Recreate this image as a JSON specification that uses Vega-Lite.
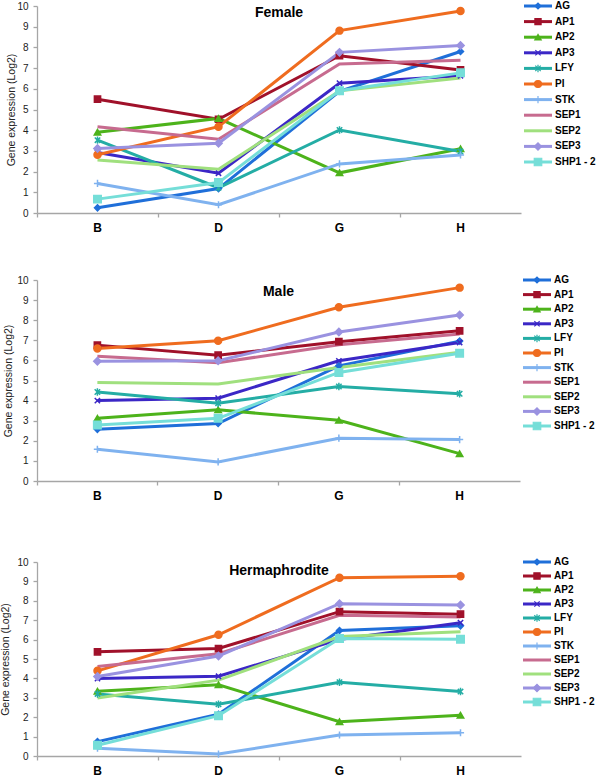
{
  "$schema": "https://vega.github.io/schema/vega-lite/v6.json",
  "padding": {"left": 0, "top": 0, "right": 0, "bottom": 0},
  "config": {
    "view": {"stroke": null},
    "font": "Liberation Sans",
    "axis": {"domainColor": "#a6a6a6", "tickColor": "#a6a6a6", "domainWidth": 1.3, "tickWidth": 1.3, "tickSize": 4, "grid": false, "labelFont": "Liberation Sans", "titleFont": "Liberation Sans"},
    "axisX": {"labelFontSize": 12, "labelFontWeight": "bold", "labelColor": "#000", "labelPadding": 5, "labelAngle": 0, "bandPosition": 0},
    "axisY": {"labelFontSize": 10, "labelColor": "#222", "labelPadding": 5, "titleFontSize": 10.5, "titleFontWeight": "normal", "titleColor": "#222"},
    "title": {"font": "Liberation Sans", "fontSize": 14, "fontWeight": "bold", "color": "#000", "frame": "group", "anchor": "middle", "baseline": "alphabetic"}
  },
  "datasets": {
    "genes": [
      {"gene": "AG"}, {"gene": "AP1"}, {"gene": "AP2"}, {"gene": "AP3"}, {"gene": "LFY"}, {"gene": "PI"},
      {"gene": "STK"}, {"gene": "SEP1"}, {"gene": "SEP2"}, {"gene": "SEP3"}, {"gene": "SHP1 - 2"}
    ],
    "expr": [
      {"panel": "Female", "gene": "AG", "stage": "B", "value": 0.25},
      {"panel": "Female", "gene": "AG", "stage": "D", "value": 1.18},
      {"panel": "Female", "gene": "AG", "stage": "G", "value": 5.88},
      {"panel": "Female", "gene": "AG", "stage": "H", "value": 7.8},
      {"panel": "Female", "gene": "AP1", "stage": "B", "value": 5.5},
      {"panel": "Female", "gene": "AP1", "stage": "D", "value": 4.53},
      {"panel": "Female", "gene": "AP1", "stage": "G", "value": 7.6},
      {"panel": "Female", "gene": "AP1", "stage": "H", "value": 6.91},
      {"panel": "Female", "gene": "AP2", "stage": "B", "value": 3.9},
      {"panel": "Female", "gene": "AP2", "stage": "D", "value": 4.57},
      {"panel": "Female", "gene": "AP2", "stage": "G", "value": 1.94},
      {"panel": "Female", "gene": "AP2", "stage": "H", "value": 3.1},
      {"panel": "Female", "gene": "AP3", "stage": "B", "value": 2.92},
      {"panel": "Female", "gene": "AP3", "stage": "D", "value": 1.92},
      {"panel": "Female", "gene": "AP3", "stage": "G", "value": 6.27},
      {"panel": "Female", "gene": "AP3", "stage": "H", "value": 6.63},
      {"panel": "Female", "gene": "LFY", "stage": "B", "value": 3.52},
      {"panel": "Female", "gene": "LFY", "stage": "D", "value": 1.22},
      {"panel": "Female", "gene": "LFY", "stage": "G", "value": 4.01},
      {"panel": "Female", "gene": "LFY", "stage": "H", "value": 2.97},
      {"panel": "Female", "gene": "PI", "stage": "B", "value": 2.81},
      {"panel": "Female", "gene": "PI", "stage": "D", "value": 4.17},
      {"panel": "Female", "gene": "PI", "stage": "G", "value": 8.81},
      {"panel": "Female", "gene": "PI", "stage": "H", "value": 9.76},
      {"panel": "Female", "gene": "STK", "stage": "B", "value": 1.43},
      {"panel": "Female", "gene": "STK", "stage": "D", "value": 0.4},
      {"panel": "Female", "gene": "STK", "stage": "G", "value": 2.37},
      {"panel": "Female", "gene": "STK", "stage": "H", "value": 2.8},
      {"panel": "Female", "gene": "SEP1", "stage": "B", "value": 4.17},
      {"panel": "Female", "gene": "SEP1", "stage": "D", "value": 3.56},
      {"panel": "Female", "gene": "SEP1", "stage": "G", "value": 7.2},
      {"panel": "Female", "gene": "SEP1", "stage": "H", "value": 7.38},
      {"panel": "Female", "gene": "SEP2", "stage": "B", "value": 2.56},
      {"panel": "Female", "gene": "SEP2", "stage": "D", "value": 2.11},
      {"panel": "Female", "gene": "SEP2", "stage": "G", "value": 5.9},
      {"panel": "Female", "gene": "SEP2", "stage": "H", "value": 6.52},
      {"panel": "Female", "gene": "SEP3", "stage": "B", "value": 3.12},
      {"panel": "Female", "gene": "SEP3", "stage": "D", "value": 3.37},
      {"panel": "Female", "gene": "SEP3", "stage": "G", "value": 7.76},
      {"panel": "Female", "gene": "SEP3", "stage": "H", "value": 8.09},
      {"panel": "Female", "gene": "SHP1 - 2", "stage": "B", "value": 0.67},
      {"panel": "Female", "gene": "SHP1 - 2", "stage": "D", "value": 1.47},
      {"panel": "Female", "gene": "SHP1 - 2", "stage": "G", "value": 5.91},
      {"panel": "Female", "gene": "SHP1 - 2", "stage": "H", "value": 6.77},

      {"panel": "Male", "gene": "AG", "stage": "B", "value": 2.57},
      {"panel": "Male", "gene": "AG", "stage": "D", "value": 2.86},
      {"panel": "Male", "gene": "AG", "stage": "G", "value": 5.73},
      {"panel": "Male", "gene": "AG", "stage": "H", "value": 6.96},
      {"panel": "Male", "gene": "AP1", "stage": "B", "value": 6.76},
      {"panel": "Male", "gene": "AP1", "stage": "D", "value": 6.26},
      {"panel": "Male", "gene": "AP1", "stage": "G", "value": 6.93},
      {"panel": "Male", "gene": "AP1", "stage": "H", "value": 7.47},
      {"panel": "Male", "gene": "AP2", "stage": "B", "value": 3.12},
      {"panel": "Male", "gene": "AP2", "stage": "D", "value": 3.54},
      {"panel": "Male", "gene": "AP2", "stage": "G", "value": 3.02},
      {"panel": "Male", "gene": "AP2", "stage": "H", "value": 1.36},
      {"panel": "Male", "gene": "AP3", "stage": "B", "value": 4.0},
      {"panel": "Male", "gene": "AP3", "stage": "D", "value": 4.12},
      {"panel": "Male", "gene": "AP3", "stage": "G", "value": 5.98},
      {"panel": "Male", "gene": "AP3", "stage": "H", "value": 6.89},
      {"panel": "Male", "gene": "LFY", "stage": "B", "value": 4.43},
      {"panel": "Male", "gene": "LFY", "stage": "D", "value": 3.87},
      {"panel": "Male", "gene": "LFY", "stage": "G", "value": 4.7},
      {"panel": "Male", "gene": "LFY", "stage": "H", "value": 4.34},
      {"panel": "Male", "gene": "PI", "stage": "B", "value": 6.59},
      {"panel": "Male", "gene": "PI", "stage": "D", "value": 6.98},
      {"panel": "Male", "gene": "PI", "stage": "G", "value": 8.64},
      {"panel": "Male", "gene": "PI", "stage": "H", "value": 9.62},
      {"panel": "Male", "gene": "STK", "stage": "B", "value": 1.58},
      {"panel": "Male", "gene": "STK", "stage": "D", "value": 0.95},
      {"panel": "Male", "gene": "STK", "stage": "G", "value": 2.13},
      {"panel": "Male", "gene": "STK", "stage": "H", "value": 2.06},
      {"panel": "Male", "gene": "SEP1", "stage": "B", "value": 6.21},
      {"panel": "Male", "gene": "SEP1", "stage": "D", "value": 5.88},
      {"panel": "Male", "gene": "SEP1", "stage": "G", "value": 6.78},
      {"panel": "Male", "gene": "SEP1", "stage": "H", "value": 7.31},
      {"panel": "Male", "gene": "SEP2", "stage": "B", "value": 4.9},
      {"panel": "Male", "gene": "SEP2", "stage": "D", "value": 4.83},
      {"panel": "Male", "gene": "SEP2", "stage": "G", "value": 5.65},
      {"panel": "Male", "gene": "SEP2", "stage": "H", "value": 6.4},
      {"panel": "Male", "gene": "SEP3", "stage": "B", "value": 5.96},
      {"panel": "Male", "gene": "SEP3", "stage": "D", "value": 5.98},
      {"panel": "Male", "gene": "SEP3", "stage": "G", "value": 7.41},
      {"panel": "Male", "gene": "SEP3", "stage": "H", "value": 8.26},
      {"panel": "Male", "gene": "SHP1 - 2", "stage": "B", "value": 2.79},
      {"panel": "Male", "gene": "SHP1 - 2", "stage": "D", "value": 3.12},
      {"panel": "Male", "gene": "SHP1 - 2", "stage": "G", "value": 5.4},
      {"panel": "Male", "gene": "SHP1 - 2", "stage": "H", "value": 6.36},

      {"panel": "Hermaphrodite", "gene": "AG", "stage": "B", "value": 0.74},
      {"panel": "Hermaphrodite", "gene": "AG", "stage": "D", "value": 2.15},
      {"panel": "Hermaphrodite", "gene": "AG", "stage": "G", "value": 6.47},
      {"panel": "Hermaphrodite", "gene": "AG", "stage": "H", "value": 6.71},
      {"panel": "Hermaphrodite", "gene": "AP1", "stage": "B", "value": 5.37},
      {"panel": "Hermaphrodite", "gene": "AP1", "stage": "D", "value": 5.54},
      {"panel": "Hermaphrodite", "gene": "AP1", "stage": "G", "value": 7.44},
      {"panel": "Hermaphrodite", "gene": "AP1", "stage": "H", "value": 7.31},
      {"panel": "Hermaphrodite", "gene": "AP2", "stage": "B", "value": 3.34},
      {"panel": "Hermaphrodite", "gene": "AP2", "stage": "D", "value": 3.67},
      {"panel": "Hermaphrodite", "gene": "AP2", "stage": "G", "value": 1.77},
      {"panel": "Hermaphrodite", "gene": "AP2", "stage": "H", "value": 2.1},
      {"panel": "Hermaphrodite", "gene": "AP3", "stage": "B", "value": 3.99},
      {"panel": "Hermaphrodite", "gene": "AP3", "stage": "D", "value": 4.11},
      {"panel": "Hermaphrodite", "gene": "AP3", "stage": "G", "value": 6.01},
      {"panel": "Hermaphrodite", "gene": "AP3", "stage": "H", "value": 6.87},
      {"panel": "Hermaphrodite", "gene": "LFY", "stage": "B", "value": 3.2},
      {"panel": "Hermaphrodite", "gene": "LFY", "stage": "D", "value": 2.67},
      {"panel": "Hermaphrodite", "gene": "LFY", "stage": "G", "value": 3.8},
      {"panel": "Hermaphrodite", "gene": "LFY", "stage": "H", "value": 3.32},
      {"panel": "Hermaphrodite", "gene": "PI", "stage": "B", "value": 4.39},
      {"panel": "Hermaphrodite", "gene": "PI", "stage": "D", "value": 6.25},
      {"panel": "Hermaphrodite", "gene": "PI", "stage": "G", "value": 9.19},
      {"panel": "Hermaphrodite", "gene": "PI", "stage": "H", "value": 9.26},
      {"panel": "Hermaphrodite", "gene": "STK", "stage": "B", "value": 0.4},
      {"panel": "Hermaphrodite", "gene": "STK", "stage": "D", "value": 0.1},
      {"panel": "Hermaphrodite", "gene": "STK", "stage": "G", "value": 1.08},
      {"panel": "Hermaphrodite", "gene": "STK", "stage": "H", "value": 1.2},
      {"panel": "Hermaphrodite", "gene": "SEP1", "stage": "B", "value": 4.61},
      {"panel": "Hermaphrodite", "gene": "SEP1", "stage": "D", "value": 5.27},
      {"panel": "Hermaphrodite", "gene": "SEP1", "stage": "G", "value": 7.25},
      {"panel": "Hermaphrodite", "gene": "SEP1", "stage": "H", "value": 7.16},
      {"panel": "Hermaphrodite", "gene": "SEP2", "stage": "B", "value": 2.99},
      {"panel": "Hermaphrodite", "gene": "SEP2", "stage": "D", "value": 3.91},
      {"panel": "Hermaphrodite", "gene": "SEP2", "stage": "G", "value": 6.16},
      {"panel": "Hermaphrodite", "gene": "SEP2", "stage": "H", "value": 6.4},
      {"panel": "Hermaphrodite", "gene": "SEP3", "stage": "B", "value": 4.1},
      {"panel": "Hermaphrodite", "gene": "SEP3", "stage": "D", "value": 5.15},
      {"panel": "Hermaphrodite", "gene": "SEP3", "stage": "G", "value": 7.85},
      {"panel": "Hermaphrodite", "gene": "SEP3", "stage": "H", "value": 7.78},
      {"panel": "Hermaphrodite", "gene": "SHP1 - 2", "stage": "B", "value": 0.55},
      {"panel": "Hermaphrodite", "gene": "SHP1 - 2", "stage": "D", "value": 2.08},
      {"panel": "Hermaphrodite", "gene": "SHP1 - 2", "stage": "G", "value": 6.06},
      {"panel": "Hermaphrodite", "gene": "SHP1 - 2", "stage": "H", "value": 6.02}
    ]
  },
  "spacing": 55,
  "vconcat": [
    {
      "spacing": 41,
      "vconcat": [
        {
          "spacing": 1,
          "hconcat": [
            {
              "width": 484, "height": 207,
              "title": {"text": "Female", "offset": -19},
              "data": {"name": "expr"},
              "transform": [{"filter": "datum.panel === 'Female'"}],
              "encoding": {
                "x": {"field": "stage", "type": "nominal", "scale": {"type": "band", "paddingInner": 0, "paddingOuter": 0}, "axis": {"title": null}},
                "y": {"field": "value", "type": "quantitative", "scale": {"domain": [0, 10], "nice": false}, "axis": {"title": "Gene expression (Log2)", "values": [0,1,2,3,4,5,6,7,8,9,10], "titlePadding": 0}},
                "color": {"field": "gene", "type": "nominal", "legend": null, "scale": {"domain": ["AG","AP1","AP2","AP3","LFY","PI","STK","SEP1","SEP2","SEP3","SHP1 - 2"], "range": ["#1f6fd9","#a0112a","#4db31b","#3b27c6","#24ada5","#ef6c1f","#7fb2ef","#c76b8f","#a0e07e","#9a92e0","#75ded8"]}}
              },
              "layer": [
                {"mark": {"type": "line", "strokeWidth": 3}},
                {
                  "transform": [{"filter": "datum.gene !== 'SEP1' && datum.gene !== 'SEP2'"}],
                  "mark": {"type": "point", "filled": true, "opacity": 1, "strokeWidth": 1.5},
                  "encoding": {
                    "shape": {"field": "gene", "type": "nominal", "legend": null, "scale": {"domain": ["AG","AP1","AP2","AP3","LFY","PI","STK","SEP3","SHP1 - 2"], "range": ["diamond","square","triangle-up","M-0.8,-0.8L0.8,0.8M-0.8,0.8L0.8,-0.8","M-0.8,-0.8L0.8,0.8M-0.8,0.8L0.8,-0.8M0,-1.1L0,1.1","circle","M-1,0L1,0M0,-1L0,1","diamond","square"]}},
                    "size": {"field": "gene", "type": "nominal", "legend": null, "scale": {"domain": ["AG","AP1","AP2","AP3","LFY","PI","STK","SEP3","SHP1 - 2"], "range": [36,56,56,81,81,56,90,56,49]}},
                    "stroke": {"field": "gene", "type": "nominal", "legend": null, "scale": {"domain": ["AG","AP1","AP2","AP3","LFY","PI","STK","SEP1","SEP2","SEP3","SHP1 - 2"], "range": ["#1f6fd9","#a0112a","#4db31b","#3b27c6","#24ada5","#ef6c1f","#7fb2ef","#c76b8f","#a0e07e","#9a92e0","#75ded8"]}}
                  }
                }
              ]
            },
            {
              "width": 28, "height": 156,
              "data": {"name": "genes"},
              "encoding": {
                "y": {"field": "gene", "type": "nominal", "sort": ["AG","AP1","AP2","AP3","LFY","PI","STK","SEP1","SEP2","SEP3","SHP1 - 2"], "scale": {"type": "point", "padding": 0}, "axis": null},
                "color": {"field": "gene", "type": "nominal", "legend": null, "scale": {"domain": ["AG","AP1","AP2","AP3","LFY","PI","STK","SEP1","SEP2","SEP3","SHP1 - 2"], "range": ["#1f6fd9","#a0112a","#4db31b","#3b27c6","#24ada5","#ef6c1f","#7fb2ef","#c76b8f","#a0e07e","#9a92e0","#75ded8"]}}
              },
              "layer": [
                {"mark": {"type": "rule", "strokeWidth": 3}, "encoding": {"x": {"datum": 0, "type": "quantitative", "scale": {"domain": [0, 28], "nice": false, "zero": false}, "axis": null}, "x2": {"datum": 28}}},
                {
                  "transform": [{"filter": "datum.gene !== 'SEP1' && datum.gene !== 'SEP2'"}],
                  "mark": {"type": "point", "filled": true, "opacity": 1, "strokeWidth": 1.2},
                  "encoding": {
                    "x": {"datum": 14, "type": "quantitative"},
                    "shape": {"field": "gene", "type": "nominal", "legend": null, "scale": {"domain": ["AG","AP1","AP2","AP3","LFY","PI","STK","SEP3","SHP1 - 2"], "range": ["diamond","square","triangle-up","M-0.8,-0.8L0.8,0.8M-0.8,0.8L0.8,-0.8","M-0.8,-0.8L0.8,0.8M-0.8,0.8L0.8,-0.8M0,-1.1L0,1.1","circle","M-1,0L1,0M0,-1L0,1","diamond","square"]}},
                    "size": {"field": "gene", "type": "nominal", "legend": null, "scale": {"domain": ["AG","AP1","AP2","AP3","LFY","PI","STK","SEP3","SHP1 - 2"], "range": [14,30,20,36,36,22,40,14,30]}},
                    "stroke": {"field": "gene", "type": "nominal", "legend": null, "scale": {"domain": ["AG","AP1","AP2","AP3","LFY","PI","STK","SEP1","SEP2","SEP3","SHP1 - 2"], "range": ["#1f6fd9","#a0112a","#4db31b","#3b27c6","#24ada5","#ef6c1f","#7fb2ef","#c76b8f","#a0e07e","#9a92e0","#75ded8"]}}
                  }
                },
                {
                  "mark": {"type": "text", "align": "left", "baseline": "middle", "dx": 3, "fontSize": 10, "fontWeight": "bold", "font": "Liberation Sans"},
                  "encoding": {"x": {"datum": 28, "type": "quantitative"}, "text": {"field": "gene"}, "color": {"value": "#000"}}
                }
              ]
            }
          ]
        },
        {
          "spacing": 1,
          "hconcat": [
            {
              "width": 483, "height": 201,
              "title": {"text": "Male", "offset": -24},
              "data": {"name": "expr"},
              "transform": [{"filter": "datum.panel === 'Male'"}],
              "encoding": {
                "x": {"field": "stage", "type": "nominal", "scale": {"type": "band", "paddingInner": 0, "paddingOuter": 0}, "axis": {"title": null}},
                "y": {"field": "value", "type": "quantitative", "scale": {"domain": [0, 10], "nice": false}, "axis": {"title": "Gene expression (Log2)", "values": [0,1,2,3,4,5,6,7,8,9,10], "titlePadding": 3}},
                "color": {"field": "gene", "type": "nominal", "legend": null, "scale": {"domain": ["AG","AP1","AP2","AP3","LFY","PI","STK","SEP1","SEP2","SEP3","SHP1 - 2"], "range": ["#1f6fd9","#a0112a","#4db31b","#3b27c6","#24ada5","#ef6c1f","#7fb2ef","#c76b8f","#a0e07e","#9a92e0","#75ded8"]}}
              },
              "layer": [
                {"mark": {"type": "line", "strokeWidth": 3}},
                {
                  "transform": [{"filter": "datum.gene !== 'SEP1' && datum.gene !== 'SEP2'"}],
                  "mark": {"type": "point", "filled": true, "opacity": 1, "strokeWidth": 1.5},
                  "encoding": {
                    "shape": {"field": "gene", "type": "nominal", "legend": null, "scale": {"domain": ["AG","AP1","AP2","AP3","LFY","PI","STK","SEP3","SHP1 - 2"], "range": ["diamond","square","triangle-up","M-0.8,-0.8L0.8,0.8M-0.8,0.8L0.8,-0.8","M-0.8,-0.8L0.8,0.8M-0.8,0.8L0.8,-0.8M0,-1.1L0,1.1","circle","M-1,0L1,0M0,-1L0,1","diamond","square"]}},
                    "size": {"field": "gene", "type": "nominal", "legend": null, "scale": {"domain": ["AG","AP1","AP2","AP3","LFY","PI","STK","SEP3","SHP1 - 2"], "range": [36,56,56,81,81,56,90,56,49]}},
                    "stroke": {"field": "gene", "type": "nominal", "legend": null, "scale": {"domain": ["AG","AP1","AP2","AP3","LFY","PI","STK","SEP1","SEP2","SEP3","SHP1 - 2"], "range": ["#1f6fd9","#a0112a","#4db31b","#3b27c6","#24ada5","#ef6c1f","#7fb2ef","#c76b8f","#a0e07e","#9a92e0","#75ded8"]}}
                  }
                }
              ]
            },
            {
              "width": 28, "height": 146,
              "data": {"name": "genes"},
              "encoding": {
                "y": {"field": "gene", "type": "nominal", "sort": ["AG","AP1","AP2","AP3","LFY","PI","STK","SEP1","SEP2","SEP3","SHP1 - 2"], "scale": {"type": "point", "padding": 0}, "axis": null},
                "color": {"field": "gene", "type": "nominal", "legend": null, "scale": {"domain": ["AG","AP1","AP2","AP3","LFY","PI","STK","SEP1","SEP2","SEP3","SHP1 - 2"], "range": ["#1f6fd9","#a0112a","#4db31b","#3b27c6","#24ada5","#ef6c1f","#7fb2ef","#c76b8f","#a0e07e","#9a92e0","#75ded8"]}}
              },
              "layer": [
                {"mark": {"type": "rule", "strokeWidth": 3}, "encoding": {"x": {"datum": 0, "type": "quantitative", "scale": {"domain": [0, 28], "nice": false, "zero": false}, "axis": null}, "x2": {"datum": 28}}},
                {
                  "transform": [{"filter": "datum.gene !== 'SEP1' && datum.gene !== 'SEP2'"}],
                  "mark": {"type": "point", "filled": true, "opacity": 1, "strokeWidth": 1.2},
                  "encoding": {
                    "x": {"datum": 14, "type": "quantitative"},
                    "shape": {"field": "gene", "type": "nominal", "legend": null, "scale": {"domain": ["AG","AP1","AP2","AP3","LFY","PI","STK","SEP3","SHP1 - 2"], "range": ["diamond","square","triangle-up","M-0.8,-0.8L0.8,0.8M-0.8,0.8L0.8,-0.8","M-0.8,-0.8L0.8,0.8M-0.8,0.8L0.8,-0.8M0,-1.1L0,1.1","circle","M-1,0L1,0M0,-1L0,1","diamond","square"]}},
                    "size": {"field": "gene", "type": "nominal", "legend": null, "scale": {"domain": ["AG","AP1","AP2","AP3","LFY","PI","STK","SEP3","SHP1 - 2"], "range": [14,30,20,36,36,22,40,14,30]}},
                    "stroke": {"field": "gene", "type": "nominal", "legend": null, "scale": {"domain": ["AG","AP1","AP2","AP3","LFY","PI","STK","SEP1","SEP2","SEP3","SHP1 - 2"], "range": ["#1f6fd9","#a0112a","#4db31b","#3b27c6","#24ada5","#ef6c1f","#7fb2ef","#c76b8f","#a0e07e","#9a92e0","#75ded8"]}}
                  }
                },
                {
                  "mark": {"type": "text", "align": "left", "baseline": "middle", "dx": 3, "fontSize": 10, "fontWeight": "bold", "font": "Liberation Sans"},
                  "encoding": {"x": {"datum": 28, "type": "quantitative"}, "text": {"field": "gene"}, "color": {"value": "#000"}}
                }
              ]
            }
          ]
        }
      ]
    },
    {
      "spacing": 0,
      "hconcat": [
        {
          "width": 484, "height": 194,
          "title": {"text": "Hermaphrodite", "offset": -21},
          "data": {"name": "expr"},
          "transform": [{"filter": "datum.panel === 'Hermaphrodite'"}],
          "encoding": {
            "x": {"field": "stage", "type": "nominal", "scale": {"type": "band", "paddingInner": 0, "paddingOuter": 0}, "axis": {"title": null}},
            "y": {"field": "value", "type": "quantitative", "scale": {"domain": [0, 10], "nice": false}, "axis": {"title": "Gene expression (Log2)", "values": [0,1,2,3,4,5,6,7,8,9,10], "titlePadding": 6}},
            "color": {"field": "gene", "type": "nominal", "legend": null, "scale": {"domain": ["AG","AP1","AP2","AP3","LFY","PI","STK","SEP1","SEP2","SEP3","SHP1 - 2"], "range": ["#1f6fd9","#a0112a","#4db31b","#3b27c6","#24ada5","#ef6c1f","#7fb2ef","#c76b8f","#a0e07e","#9a92e0","#75ded8"]}}
          },
          "layer": [
            {"mark": {"type": "line", "strokeWidth": 3}},
            {
              "transform": [{"filter": "datum.gene !== 'SEP1' && datum.gene !== 'SEP2'"}],
              "mark": {"type": "point", "filled": true, "opacity": 1, "strokeWidth": 1.5},
              "encoding": {
                "shape": {"field": "gene", "type": "nominal", "legend": null, "scale": {"domain": ["AG","AP1","AP2","AP3","LFY","PI","STK","SEP3","SHP1 - 2"], "range": ["diamond","square","triangle-up","M-0.8,-0.8L0.8,0.8M-0.8,0.8L0.8,-0.8","M-0.8,-0.8L0.8,0.8M-0.8,0.8L0.8,-0.8M0,-1.1L0,1.1","circle","M-1,0L1,0M0,-1L0,1","diamond","square"]}},
                "size": {"field": "gene", "type": "nominal", "legend": null, "scale": {"domain": ["AG","AP1","AP2","AP3","LFY","PI","STK","SEP3","SHP1 - 2"], "range": [36,56,56,81,81,56,90,56,49]}},
                "stroke": {"field": "gene", "type": "nominal", "legend": null, "scale": {"domain": ["AG","AP1","AP2","AP3","LFY","PI","STK","SEP1","SEP2","SEP3","SHP1 - 2"], "range": ["#1f6fd9","#a0112a","#4db31b","#3b27c6","#24ada5","#ef6c1f","#7fb2ef","#c76b8f","#a0e07e","#9a92e0","#75ded8"]}}
              }
            }
          ]
        },
        {
          "width": 28, "height": 140,
          "data": {"name": "genes"},
          "encoding": {
            "y": {"field": "gene", "type": "nominal", "sort": ["AG","AP1","AP2","AP3","LFY","PI","STK","SEP1","SEP2","SEP3","SHP1 - 2"], "scale": {"type": "point", "padding": 0}, "axis": null},
            "color": {"field": "gene", "type": "nominal", "legend": null, "scale": {"domain": ["AG","AP1","AP2","AP3","LFY","PI","STK","SEP1","SEP2","SEP3","SHP1 - 2"], "range": ["#1f6fd9","#a0112a","#4db31b","#3b27c6","#24ada5","#ef6c1f","#7fb2ef","#c76b8f","#a0e07e","#9a92e0","#75ded8"]}}
          },
          "layer": [
            {"mark": {"type": "rule", "strokeWidth": 3}, "encoding": {"x": {"datum": 0, "type": "quantitative", "scale": {"domain": [0, 28], "nice": false, "zero": false}, "axis": null}, "x2": {"datum": 28}}},
            {
              "transform": [{"filter": "datum.gene !== 'SEP1' && datum.gene !== 'SEP2'"}],
              "mark": {"type": "point", "filled": true, "opacity": 1, "strokeWidth": 1.2},
              "encoding": {
                "x": {"datum": 14, "type": "quantitative"},
                "shape": {"field": "gene", "type": "nominal", "legend": null, "scale": {"domain": ["AG","AP1","AP2","AP3","LFY","PI","STK","SEP3","SHP1 - 2"], "range": ["diamond","square","triangle-up","M-0.8,-0.8L0.8,0.8M-0.8,0.8L0.8,-0.8","M-0.8,-0.8L0.8,0.8M-0.8,0.8L0.8,-0.8M0,-1.1L0,1.1","circle","M-1,0L1,0M0,-1L0,1","diamond","square"]}},
                "size": {"field": "gene", "type": "nominal", "legend": null, "scale": {"domain": ["AG","AP1","AP2","AP3","LFY","PI","STK","SEP3","SHP1 - 2"], "range": [14,30,20,36,36,22,40,14,30]}},
                "stroke": {"field": "gene", "type": "nominal", "legend": null, "scale": {"domain": ["AG","AP1","AP2","AP3","LFY","PI","STK","SEP1","SEP2","SEP3","SHP1 - 2"], "range": ["#1f6fd9","#a0112a","#4db31b","#3b27c6","#24ada5","#ef6c1f","#7fb2ef","#c76b8f","#a0e07e","#9a92e0","#75ded8"]}}
              }
            },
            {
              "mark": {"type": "text", "align": "left", "baseline": "middle", "dx": 3, "fontSize": 10, "fontWeight": "bold", "font": "Liberation Sans"},
              "encoding": {"x": {"datum": 28, "type": "quantitative"}, "text": {"field": "gene"}, "color": {"value": "#000"}}
            }
          ]
        }
      ]
    }
  ]
}
